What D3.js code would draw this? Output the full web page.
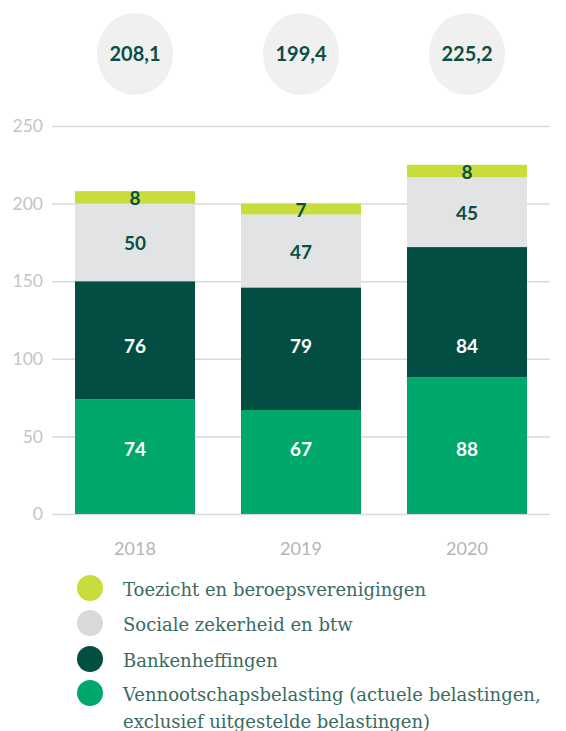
<!DOCTYPE html>
<html>
<head>
  <script src='https://d3js.org/d3.v7.min.js'></script>
  <style>
    body { margin: 0; background: #fff; }
    .grid line { stroke: #d9d9d9; stroke-width: 1.5; }
    .grid .domain { stroke: none; }
  </style>
</head>
<body>
  <svg id="canvas" width="566" height="731"></svg>
  <script>
    // data
    const years = ['2018', '2019', '2020'];
    const totals = ['208,1', '199,4', '225,2'];
    const series = ['Vennootschapsbelasting', 'Bankenheffingen', 'Sociale zekerheid en btw', 'Toezicht en beroepsverenigingen'];
    const vennootschap = [74, 67, 88];
    const banken = [76, 79, 84];
    const sociale = [50, 47, 45];
    const toezicht = [8, 7, 8];
    const yTicks = [0, 50, 100, 150, 200, 250];
    const legendLabels = [
      ['Toezicht en beroepsverenigingen'],
      ['Sociale zekerheid en btw'],
      ['Bankenheffingen'],
      ['Vennootschapsbelasting (actuele belastingen,', 'exclusief uitgestelde belastingen)']
    ];

    const colors = ['#00a86b', '#034e43', '#e2e3e5', '#c8dc3c'];
    const legendColors = ['#c8dc3c', '#d9d9d7', '#034e43', '#00a86b'];
    const labelColors = ['#ffffff', '#ffffff', '#0a4f45', '#0a4f45'];
    // the two lower layers have their labels on a fixed height in the original
    const fixedLabelAt = [42, 108, null, null];

    const svg = d3.select('svg#canvas');

    const table = years.map((y, i) => ({
      year: y,
      'Vennootschapsbelasting': vennootschap[i],
      'Bankenheffingen': banken[i],
      'Sociale zekerheid en btw': sociale[i],
      'Toezicht en beroepsverenigingen': toezicht[i]
    }));
    const stacked = d3.stack().keys(series)(table);

    const x = d3.scaleBand().domain(years).range([52, 550]).paddingInner(0.277).paddingOuter(0.1385);
    const y = d3.scaleLinear().domain([0, 250]).range([514, 126]);

    // gridlines
    svg.append('g')
      .attr('class', 'grid')
      .attr('transform', 'translate(52,0)')
      .call(d3.axisLeft(y).tickValues(yTicks).tickSize(-498).tickFormat(''));

    // y tick labels
    svg.append('g').selectAll('text')
      .data(yTicks)
      .join('text')
      .attr('x', 43)
      .attr('y', d => y(d))
      .attr('dy', '0.35em')
      .attr('text-anchor', 'end')
      .style('font-family', 'Lato')
      .style('font-size', '17.5px')
      .style('fill', '#c4c4c4')
      .text(d => d);

    // stacked bars
    const layers = svg.append('g').selectAll('g')
      .data(stacked)
      .join('g')
      .attr('fill', (d, i) => colors[i]);

    layers.selectAll('rect')
      .data(d => d)
      .join('rect')
      .attr('x', d => x(d.data.year))
      .attr('width', x.bandwidth())
      .attr('y', d => y(d[1]))
      .attr('height', d => y(d[0]) - y(d[1]));

    // segment labels
    stacked.forEach((layer, i) => {
      svg.append('g').selectAll('text')
        .data(layer)
        .join('text')
        .attr('x', d => x(d.data.year) + x.bandwidth() / 2)
        .attr('y', d => fixedLabelAt[i] !== null ? y(fixedLabelAt[i]) : (y(d[0]) + y(d[1])) / 2 + 1)
        .attr('dy', '0.36em')
        .attr('text-anchor', 'middle')
        .style('font-family', 'Lato')
        .style('font-weight', 'bold')
        .style('font-size', '19px')
        .style('fill', labelColors[i])
        .text(d => d[1] - d[0]);
    });

    // x labels
    svg.append('g').selectAll('text')
      .data(years)
      .join('text')
      .attr('x', d => x(d) + x.bandwidth() / 2)
      .attr('y', 549)
      .attr('dy', '0.35em')
      .attr('text-anchor', 'middle')
      .style('font-family', 'Lato')
      .style('font-size', '18px')
      .style('fill', '#b5b5b5')
      .text(d => d);

    // total circles on top
    const tops = svg.append('g').selectAll('g')
      .data(years)
      .join('g')
      .attr('transform', d => `translate(${x(d) + x.bandwidth() / 2},54)`);
    tops.append('ellipse')
      .attr('rx', 38)
      .attr('ry', 41)
      .attr('fill', '#f0f0f0');
    tops.append('text')
      .attr('text-anchor', 'middle')
      .attr('dy', '0.36em')
      .style('font-family', 'Lato')
      .style('font-weight', 'bold')
      .style('font-size', '20px')
      .style('fill', '#0a4f45')
      .text((d, i) => totals[i]);

    // legend
    const legend = svg.append('g').attr('transform', 'translate(90,0)');
    const legendY = [588, 623, 659, 693];
    legendLabels.forEach((lines, i) => {
      legend.append('circle')
        .attr('cx', 0)
        .attr('cy', legendY[i])
        .attr('r', 13)
        .attr('fill', legendColors[i]);
      lines.forEach((line, j) => {
        legend.append('text')
          .attr('x', 33)
          .attr('y', legendY[i] + 8 + j * 27)
          .style('font-family', 'DejaVu Serif')
          .style('font-size', '18px')
          .style('fill', '#3a6b60')
          .text(line);
      });
    });
  </script>
</body>
</html>
